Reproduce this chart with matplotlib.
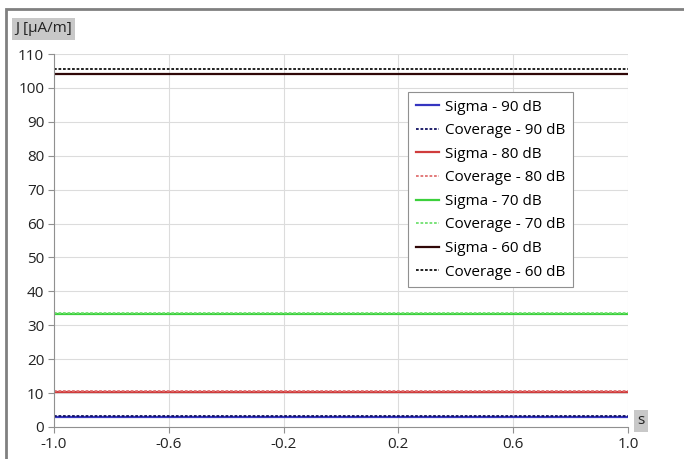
import numpy as np
import matplotlib
matplotlib.use("Agg")
import matplotlib.pyplot as plt
from matplotlib.patches import Rectangle

plt.rcParams['font.family'] = ['Open Sans', 'DejaVu Sans']

# data
s = np.linspace(-1.0, 1.0, 21)
levels_db = [90, 80, 70, 60]
sigma_J = [2.95, 10.3, 33.2, 104.1]
coverage_J = [3.15, 10.65, 33.7, 105.6]
sigma_col = ['#3535c0', '#d03c3c', '#3cd03c', '#300808']
cov_col = ['#101060', '#e07070', '#70e070', '#101010']

xticks = [-1.0, -0.6, -0.2, 0.2, 0.6, 1.0]
yticks = np.arange(0, 111, 10)

fig = plt.figure(figsize=(6.84, 4.59), dpi=100)
# outer frame
fig.patches.append(Rectangle((6/684, -0.1), 1.2, 1 - 9/459 + 0.1, transform=fig.transFigure,
                             fill=False, edgecolor='#808080', linewidth=2))
ax = fig.add_axes([54/684, 1 - 427/459, (628 - 54)/684, (427 - 54)/459])

for db, sj, cj, sc, cc in zip(levels_db, sigma_J, coverage_J, sigma_col, cov_col):
    ax.plot(s, np.full_like(s, sj), color=sc, lw=1.6, label='Sigma - %d dB' % db)
    ax.plot(s, np.full_like(s, cj), color=cc, lw=1.3, ls=(0, (1.5, 1)), label='Coverage - %d dB' % db)

ax.set_xlim(-1.0, 1.0)
ax.set_ylim(0, 110)
ax.set_xticks(xticks)
ax.set_xticklabels(['%.1f' % v for v in xticks])
ax.set_yticks(yticks)
ax.grid(True, color='#dcdcdc', lw=0.8)
ax.set_axisbelow(True)
for side in ['top', 'right']:
    ax.spines[side].set_visible(False)
for side in ['left', 'bottom']:
    ax.spines[side].set_color('#909090')
ax.tick_params(axis='both', colors='#909090', labelcolor='#222222', labelsize=11, length=4, width=0.8, pad=3)

leg = ax.legend(loc='upper left', bbox_to_anchor=((408 - 54)/574, 1 - (92 - 54)/373),
                borderaxespad=0, fontsize=11, handlelength=1.5, handletextpad=0.4,
                labelspacing=0.56, borderpad=0.5, fancybox=False, framealpha=1,
                edgecolor='#909090')
leg.get_frame().set_linewidth(0.8)

fig.text(15/684, 1 - 29/459, 'J [μA/m]', fontsize=11, va='center', ha='left', color='#222222',
         bbox=dict(boxstyle='square,pad=0.2', facecolor='#c8c8c8', edgecolor='none'))
fig.text(641/684, 1 - 421/459, 's', fontsize=11, va='center', ha='center', color='#222222',
         bbox=dict(boxstyle='square,pad=0.25', facecolor='#c8c8c8', edgecolor='none'))

fig.savefig('out.png', dpi=100)
